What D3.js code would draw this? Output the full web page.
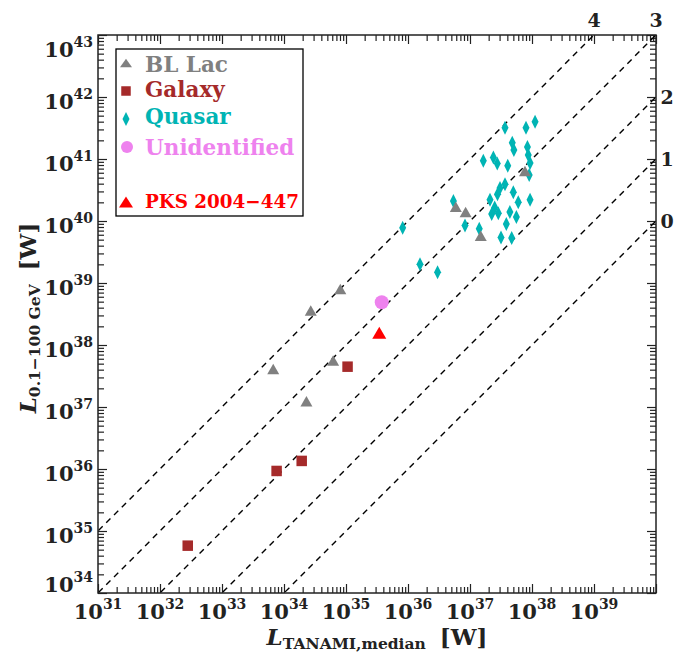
<!DOCTYPE html>
<html><head><meta charset="utf-8">
<script src="https://cdn.jsdelivr.net/npm/d3@7"></script>
<style>
body{margin:0;background:#fff;}
svg text{font-family:"DejaVu Serif",serif;font-weight:bold;}
</style></head>
<body>
<svg id="c" width="676" height="654"></svg>
<script>
// ---- data (luminosities in W) ----
const blLacX = [8.1e34, 2.7e34, 6.7e33, 6.2e34, 2.3e34, 5.9e36, 8.5e36, 1.49e37, 7.7e37];
const blLacY = [8.0e38, 3.6e38, 4.1e37, 5.6e37, 1.24e37, 1.7e40, 1.4e40, 5.8e39, 6.4e40];
const galaxyX = [2.8e32, 7.6e33, 1.93e34, 1.06e35];
const galaxyY = [5.8e34, 9.3e35, 1.35e36, 4.47e37];
const quasarX = [8.2e35, 1.56e36, 3.0e36, 5.4e36, 8.3e36, 1.41e37, 2.1e37, 2.5e37, 2.86e37, 2.24e37,
                 4.4e37, 5.6e37, 3.85e37, 3.16e37, 4.7e37, 6.0e37, 9.3e37, 3.05e37, 3.67e37, 5.0e37,
                 3.67e37, 8.0e37, 1.12e38, 4.8e37, 5.1e37, 8.45e37, 8.7e37, 9.3e37, 9.0e37, 1.64e37,
                 2.38e37, 2.75e37, 4.06e37, 2.78e37];
const quasarY = [7.8e39, 2.0e39, 1.49e39, 2.1e40, 8.5e39, 7.5e39, 2.2e40, 1.65e40, 1.33e40, 1.3e40,
                 1.4e40, 1.16e40, 8.95e39, 5.4e39, 5.3e39, 2.0e40, 2.2e40, 3.4e40, 3.9e40, 2.9e40,
                 3.2e41, 3.2e41, 4.0e41, 1.83e41, 1.4e41, 1.56e41, 1.16e41, 8.6e40, 5.5e40, 9.4e40,
                 1.06e41, 8.5e40, 7.8e40, 2.7e40];
const unidentifiedX = [3.77e35];
const unidentifiedY = [4.9e38];
const pksX = [3.44e35];
const pksY = [1.58e38];
const ratioExponents = [0, 1, 2, 3, 4];          // dashed lines L_gamma = 10^k * L_radio
const xTickExponents = [31, 32, 33, 34, 35, 36, 37, 38, 39];
const yTickExponents = [34, 35, 36, 37, 38, 39, 40, 41, 42, 43];
const legendLabels = ["BL Lac", "Galaxy", "Quasar", "Unidentified", "PKS 2004\u2212447"];

// ---- layout ----
const L = 98, R = 656, T = 35, B = 593;
const col = {bl:"#808080", gal:"#a52a2a", qso:"#00b4b4", uni:"#ee82ee", pks:"#ff0000"};
const svg = d3.select("#c");
const x = d3.scaleLog().domain([1e31, 1e40]).range([L, R]);
const y = d3.scaleLog().domain([1e34, 1e43]).range([B, T]);

const minors = (lo, hi) => { const a = []; for (let e = lo; e < hi; e++) for (let m = 2; m <= 9; m++) a.push(m * Math.pow(10, e)); return a; };
const xMaj = d3.range(31, 41).map(e => Math.pow(10, e)), yMaj = d3.range(34, 44).map(e => Math.pow(10, e));
const xMin = minors(31, 40), yMin = minors(34, 43);

svg.append("defs").append("clipPath").attr("id", "clip").append("rect")
  .attr("x", L).attr("y", T).attr("width", R - L).attr("height", B - T);

function styleAxis(g){ g.select(".domain").remove(); g.selectAll("line").attr("stroke", "#222").attr("stroke-width", 1.2); }
const MAJ = 9, MIN = 6;
[[d3.axisBottom, B, x, xMaj, MAJ], [d3.axisBottom, B, x, xMin, MIN], [d3.axisTop, T, x, xMaj, MAJ], [d3.axisTop, T, x, xMin, MIN]]
  .forEach(([f, pos, s, vals, len]) => svg.append("g").attr("transform", `translate(0,${pos})`)
    .call(f(s).tickValues(vals).tickSize(-len).tickFormat("")).call(styleAxis));
[[d3.axisLeft, L, y, yMaj, MAJ], [d3.axisLeft, L, y, yMin, MIN], [d3.axisRight, R, y, yMaj, MAJ], [d3.axisRight, R, y, yMin, MIN]]
  .forEach(([f, pos, s, vals, len]) => svg.append("g").attr("transform", `translate(${pos},0)`)
    .call(f(s).tickValues(vals).tickSize(-len).tickFormat("")).call(styleAxis));

// dashed ratio lines
const lines = svg.append("g").attr("clip-path", "url(#clip)");
ratioExponents.forEach(k => {
  const f = Math.pow(10, k);
  lines.append("line")
    .attr("x1", x(1e29)).attr("y1", y(1e29 * f)).attr("x2", x(1e41)).attr("y2", y(1e41 * f))
    .attr("stroke", "#000").attr("stroke-width", 1.4).attr("stroke-dasharray", "6,5");
});
// ratio labels
ratioExponents.forEach(k => {
  const f = Math.pow(10, k);
  const yEnd = 1e40 * f;
  let tx, ty;
  if (k < 3) { tx = R + 11; ty = y(yEnd) + 7; }
  else { tx = x(1e43 / f); ty = 27; }
  svg.append("text").attr("x", tx).attr("y", ty).attr("text-anchor", "middle")
    .attr("font-size", 19).attr("fill", "#222").text(k);
});

// frame
svg.append("rect").attr("x", L).attr("y", T).attr("width", R - L).attr("height", B - T)
  .attr("fill", "none").attr("stroke", "#222").attr("stroke-width", 1.5);

// tick labels
xTickExponents.forEach(e => {
  const t = svg.append("text").attr("x", x(Math.pow(10, e))).attr("y", 619).attr("text-anchor", "middle").attr("fill", "#222");
  t.append("tspan").attr("font-size", 21).text("10");
  t.append("tspan").attr("font-size", 14).attr("dy", -10).text(e);
});
yTickExponents.forEach(e => {
  let base = y(Math.pow(10, e)) + 12;
  if (e === 43) base = y(Math.pow(10, e)) + 22;
  if (e === 34) base = y(Math.pow(10, e)) - 1;
  const t = svg.append("text").attr("x", 93).attr("y", base).attr("text-anchor", "end").attr("fill", "#222");
  t.append("tspan").attr("font-size", 21).text("10");
  t.append("tspan").attr("font-size", 14).attr("dy", -10).text(e);
});

// axis titles
const xt = svg.append("text").attr("x", 377).attr("y", 645).attr("text-anchor", "middle").attr("fill", "#222");
xt.append("tspan").attr("font-size", 23).attr("font-style", "italic").text("L");
xt.append("tspan").attr("font-size", 15.5).attr("dy", 4).text("TANAMI,median");
xt.append("tspan").attr("font-size", 23).attr("dy", -4).attr("dx", 14).text("[W]");
const yt = svg.append("text").attr("transform", "translate(36,318) rotate(-90)").attr("text-anchor", "middle").attr("fill", "#222");
yt.append("tspan").attr("font-size", 23).attr("font-style", "italic").text("L");
yt.append("tspan").attr("font-size", 15.5).attr("dy", 4).text("0.1\u2212100 GeV");
yt.append("tspan").attr("font-size", 23).attr("dy", -4).attr("dx", 14).text("[W]");

// markers
const tri = (w, h) => `M0,${-h/2}L${w/2},${h/2}L${-w/2},${h/2}Z`;
const dia = (w, h) => `M0,${-h/2}L${w/2},0L0,${h/2}L${-w/2},0Z`;
const sq = s => `M${-s/2},${-s/2}h${s}v${s}h${-s}Z`;
const marks = svg.append("g");
function plot(xs, ys, path, color){
  marks.append("g").selectAll("path").data(xs.map((v, i) => [v, ys[i]])).join("path")
    .attr("transform", d => `translate(${x(d[0])},${y(d[1])})`).attr("d", path).attr("fill", color);
}
plot(quasarX, quasarY, dia(7, 14), col.qso);
plot(galaxyX, galaxyY, sq(10.5), col.gal);
plot(blLacX, blLacY, tri(12, 10.5), col.bl);
marks.append("g").selectAll("circle").data(unidentifiedX.map((v, i) => [v, unidentifiedY[i]])).join("circle")
  .attr("cx", d => x(d[0])).attr("cy", d => y(d[1])).attr("r", 7).attr("fill", col.uni);
plot(pksX, pksY, tri(14, 12), col.pks);

// legend
const lg = svg.append("g");
lg.append("rect").attr("x", 116).attr("y", 49).attr("width", 187).attr("height", 167)
  .attr("fill", "#fff").attr("stroke", "#000").attr("stroke-width", 1.3);
const legendItems = [
  {label: legendLabels[0], color: col.bl, cy: 63, base: 72, shape: tri(12, 8.5)},
  {label: legendLabels[1], color: col.gal, cy: 91, base: 97, shape: sq(9.5)},
  {label: legendLabels[2], color: col.qso, cy: 119, base: 124, shape: dia(7, 14)},
  {label: legendLabels[3], color: col.uni, cy: 147, base: 155, shape: "circle"},
  {label: legendLabels[4], color: col.pks, cy: 202, base: 208, shape: tri(14, 11)}
];
legendItems.forEach((it, i) => {
  if (it.shape === "circle") lg.append("circle").attr("cx", 127).attr("cy", it.cy).attr("r", 6).attr("fill", it.color);
  else lg.append("path").attr("transform", `translate(126,${it.cy})`).attr("d", it.shape).attr("fill", it.color);
  const t = lg.append("text").attr("x", 145).attr("y", it.base).attr("fill", it.color)
    .attr("font-size", i === 4 ? 19 : 21.5).text(it.label);
  if (i === 4) t.attr("textLength", 154).attr("lengthAdjust", "spacingAndGlyphs");
});
</script>
</body></html>
